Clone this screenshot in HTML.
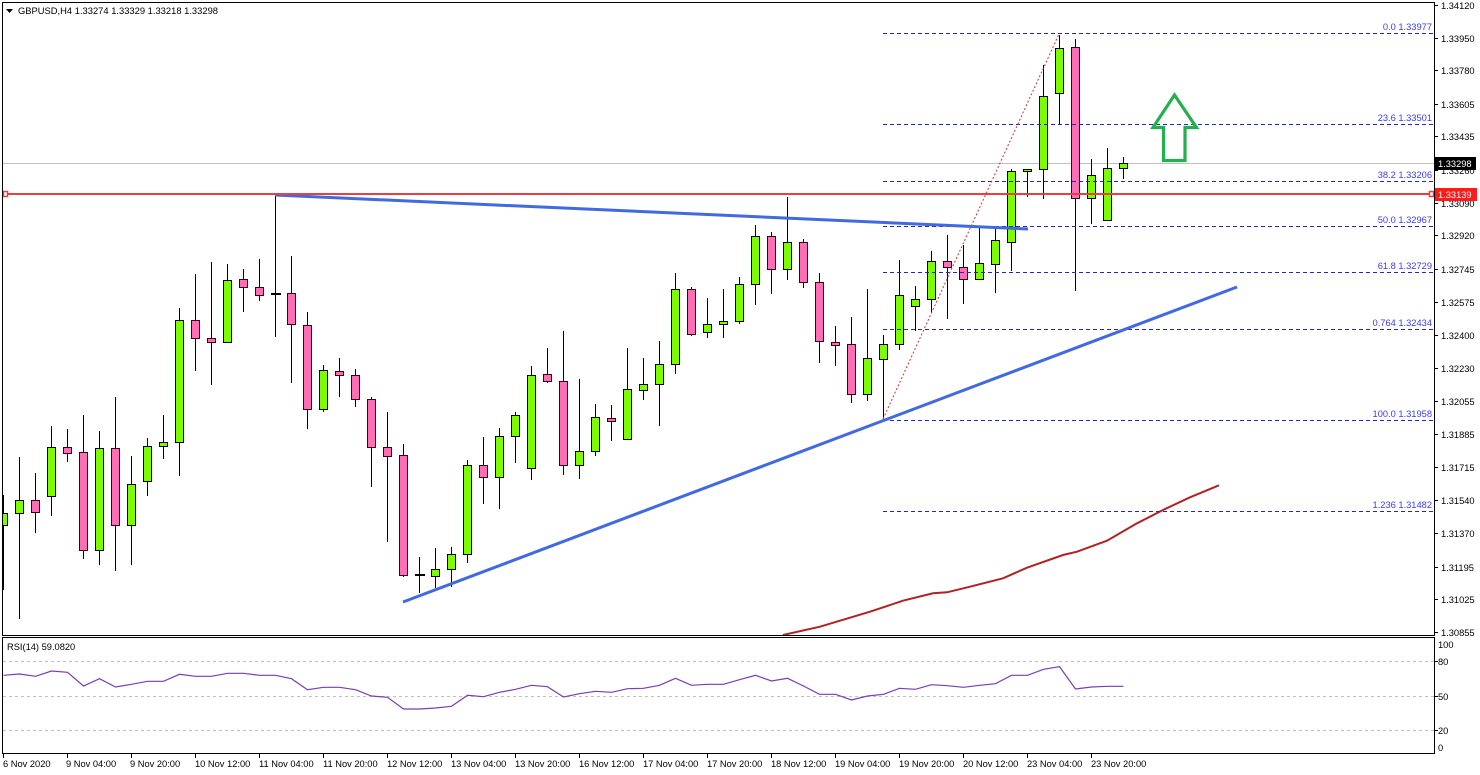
<!DOCTYPE html>
<html><head><meta charset="utf-8">
<style>
html,body{margin:0;padding:0;background:#fff;}
svg{display:block;}
text{font-family:"Liberation Sans",Arial,sans-serif;font-size:9.3px;}
</style></head>
<body>
<svg width="1480" height="775" viewBox="0 0 1480 775" xmlns="http://www.w3.org/2000/svg">
<defs>
<clipPath id="main"><rect x="3" y="3" width="1431" height="632"/></clipPath>
<clipPath id="rsi"><rect x="3" y="638" width="1431" height="115"/></clipPath>
</defs>
<rect width="1480" height="775" fill="#fff"/>

<g clip-path="url(#main)">
<!-- current price line -->
<line x1="3" y1="163.5" x2="1434" y2="163.5" stroke="#c0c0c0" stroke-width="1"/>

<!-- wicks -->
<g stroke="#000" stroke-width="1">
<line x1="3.5" y1="495" x2="3.5" y2="590"/>
<line x1="19.5" y1="457" x2="19.5" y2="619"/>
<line x1="35.5" y1="473" x2="35.5" y2="533"/>
<line x1="51.5" y1="426" x2="51.5" y2="516"/>
<line x1="67.5" y1="429" x2="67.5" y2="462"/>
<line x1="83.5" y1="415" x2="83.5" y2="559"/>
<line x1="99.5" y1="431" x2="99.5" y2="565"/>
<line x1="115.5" y1="397" x2="115.5" y2="571"/>
<line x1="131.5" y1="456" x2="131.5" y2="565"/>
<line x1="147.5" y1="438" x2="147.5" y2="496"/>
<line x1="163.5" y1="415" x2="163.5" y2="459"/>
<line x1="179.5" y1="308" x2="179.5" y2="476"/>
<line x1="195.5" y1="274" x2="195.5" y2="371"/>
<line x1="211.5" y1="262" x2="211.5" y2="385"/>
<line x1="227.5" y1="264" x2="227.5" y2="342"/>
<line x1="243.5" y1="269" x2="243.5" y2="312"/>
<line x1="259.5" y1="259" x2="259.5" y2="301"/>
<line x1="275.5" y1="195" x2="275.5" y2="337"/>
<line x1="291.5" y1="256" x2="291.5" y2="383"/>
<line x1="307.5" y1="312" x2="307.5" y2="429"/>
<line x1="323.5" y1="365" x2="323.5" y2="412"/>
<line x1="339.5" y1="358" x2="339.5" y2="397"/>
<line x1="355.5" y1="369" x2="355.5" y2="407"/>
<line x1="371.5" y1="397" x2="371.5" y2="487"/>
<line x1="387.5" y1="412" x2="387.5" y2="542"/>
<line x1="403.5" y1="444" x2="403.5" y2="577"/>
<line x1="419.5" y1="557" x2="419.5" y2="593"/>
<line x1="435.5" y1="548" x2="435.5" y2="588"/>
<line x1="451.5" y1="547" x2="451.5" y2="587"/>
<line x1="467.5" y1="460" x2="467.5" y2="563"/>
<line x1="483.5" y1="437" x2="483.5" y2="504"/>
<line x1="499.5" y1="428" x2="499.5" y2="509"/>
<line x1="515.5" y1="412" x2="515.5" y2="463"/>
<line x1="531.5" y1="366" x2="531.5" y2="480"/>
<line x1="547.5" y1="348" x2="547.5" y2="383"/>
<line x1="563.5" y1="331" x2="563.5" y2="475"/>
<line x1="579.5" y1="379" x2="579.5" y2="479"/>
<line x1="595.5" y1="404" x2="595.5" y2="456"/>
<line x1="611.5" y1="405" x2="611.5" y2="441"/>
<line x1="627.5" y1="348" x2="627.5" y2="439"/>
<line x1="643.5" y1="358" x2="643.5" y2="400"/>
<line x1="659.5" y1="341" x2="659.5" y2="426"/>
<line x1="675.5" y1="273" x2="675.5" y2="374"/>
<line x1="691.5" y1="287" x2="691.5" y2="336"/>
<line x1="707.5" y1="298" x2="707.5" y2="338"/>
<line x1="723.5" y1="289" x2="723.5" y2="338"/>
<line x1="739.5" y1="277" x2="739.5" y2="324"/>
<line x1="755.5" y1="225" x2="755.5" y2="305"/>
<line x1="771.5" y1="232" x2="771.5" y2="294"/>
<line x1="787.5" y1="197" x2="787.5" y2="280"/>
<line x1="803.5" y1="239" x2="803.5" y2="288"/>
<line x1="819.5" y1="273" x2="819.5" y2="363"/>
<line x1="835.5" y1="326" x2="835.5" y2="366"/>
<line x1="851.5" y1="317" x2="851.5" y2="403"/>
<line x1="867.5" y1="289" x2="867.5" y2="401"/>
<line x1="883.5" y1="335" x2="883.5" y2="419"/>
<line x1="899.5" y1="260" x2="899.5" y2="350"/>
<line x1="915.5" y1="286" x2="915.5" y2="331"/>
<line x1="931.5" y1="251" x2="931.5" y2="312"/>
<line x1="947.5" y1="235" x2="947.5" y2="319"/>
<line x1="963.5" y1="245" x2="963.5" y2="304"/>
<line x1="979.5" y1="226" x2="979.5" y2="279"/>
<line x1="995.5" y1="227" x2="995.5" y2="293"/>
<line x1="1011.5" y1="169" x2="1011.5" y2="271"/>
<line x1="1027.5" y1="169" x2="1027.5" y2="197"/>
<line x1="1043.5" y1="65" x2="1043.5" y2="199"/>
<line x1="1059.5" y1="35" x2="1059.5" y2="124"/>
<line x1="1075.5" y1="39" x2="1075.5" y2="291"/>
<line x1="1091.5" y1="159" x2="1091.5" y2="224"/>
<line x1="1107.5" y1="148" x2="1107.5" y2="220"/>
<line x1="1123.5" y1="157" x2="1123.5" y2="179"/>
</g>

<!-- bull bodies -->
<g fill="#7cfc00" stroke="#000" stroke-width="1">
<rect x="-0.5" y="513.5" width="8" height="12"/>
<rect x="15.5" y="500.5" width="8" height="13"/>
<rect x="47.5" y="447.5" width="8" height="49"/>
<rect x="95.5" y="448.5" width="8" height="102"/>
<rect x="127.5" y="484.5" width="8" height="41"/>
<rect x="143.5" y="446.5" width="8" height="35"/>
<rect x="159.5" y="442.5" width="8" height="4"/>
<rect x="175.5" y="320.5" width="8" height="122"/>
<rect x="223.5" y="280.5" width="8" height="62"/>
<rect x="319.5" y="370.5" width="8" height="39"/>
<rect x="431.5" y="569.5" width="8" height="7"/>
<rect x="447.5" y="554.5" width="8" height="15"/>
<rect x="463.5" y="465.5" width="8" height="89"/>
<rect x="495.5" y="436.5" width="8" height="41"/>
<rect x="511.5" y="415.5" width="8" height="21"/>
<rect x="527.5" y="375.5" width="8" height="93"/>
<rect x="575.5" y="451.5" width="8" height="14"/>
<rect x="591.5" y="417.5" width="8" height="34"/>
<rect x="623.5" y="389.5" width="8" height="50"/>
<rect x="639.5" y="384.5" width="8" height="6"/>
<rect x="655.5" y="364.5" width="8" height="20"/>
<rect x="671.5" y="289.5" width="8" height="75"/>
<rect x="703.5" y="324.5" width="8" height="8"/>
<rect x="719.5" y="321.5" width="8" height="3"/>
<rect x="735.5" y="284.5" width="8" height="37"/>
<rect x="751.5" y="236.5" width="8" height="48"/>
<rect x="783.5" y="242.5" width="8" height="27"/>
<rect x="863.5" y="358.5" width="8" height="36"/>
<rect x="879.5" y="344.5" width="8" height="15"/>
<rect x="895.5" y="295.5" width="8" height="49"/>
<rect x="911.5" y="299.5" width="8" height="7"/>
<rect x="927.5" y="261.5" width="8" height="38"/>
<rect x="975.5" y="263.5" width="8" height="16"/>
<rect x="991.5" y="240.5" width="8" height="24"/>
<rect x="1007.5" y="171.5" width="8" height="71"/>
<rect x="1023.5" y="169.5" width="8" height="2"/>
<rect x="1039.5" y="96.5" width="8" height="73"/>
<rect x="1055.5" y="48.5" width="8" height="45"/>
<rect x="1087.5" y="175.5" width="8" height="23"/>
<rect x="1103.5" y="168.5" width="8" height="52"/>
<rect x="1119.5" y="163.5" width="8" height="5"/>
</g>

<!-- bear bodies -->
<g fill="#ff6eb4" stroke="#3a0018" stroke-width="1">
<rect x="31.5" y="500.5" width="8" height="12"/>
<rect x="63.5" y="447.5" width="8" height="6"/>
<rect x="79.5" y="452.5" width="8" height="98"/>
<rect x="111.5" y="448.5" width="8" height="77"/>
<rect x="191.5" y="320.5" width="8" height="18"/>
<rect x="207.5" y="338.5" width="8" height="4"/>
<rect x="239.5" y="279.5" width="8" height="8"/>
<rect x="255.5" y="287.5" width="8" height="8"/>
<rect x="287.5" y="293.5" width="8" height="31"/>
<rect x="303.5" y="325.5" width="8" height="84"/>
<rect x="335.5" y="371.5" width="8" height="4"/>
<rect x="351.5" y="375.5" width="8" height="24"/>
<rect x="367.5" y="399.5" width="8" height="48"/>
<rect x="383.5" y="447.5" width="8" height="9"/>
<rect x="399.5" y="455.5" width="8" height="120"/>
<rect x="479.5" y="465.5" width="8" height="12"/>
<rect x="543.5" y="374.5" width="8" height="7"/>
<rect x="559.5" y="381.5" width="8" height="84"/>
<rect x="607.5" y="418.5" width="8" height="3"/>
<rect x="687.5" y="289.5" width="8" height="45"/>
<rect x="767.5" y="236.5" width="8" height="33"/>
<rect x="799.5" y="242.5" width="8" height="40"/>
<rect x="815.5" y="282.5" width="8" height="59"/>
<rect x="831.5" y="342.5" width="8" height="3"/>
<rect x="847.5" y="344.5" width="8" height="50"/>
<rect x="943.5" y="261.5" width="8" height="6"/>
<rect x="959.5" y="267.5" width="8" height="12"/>
<rect x="1071.5" y="47.5" width="8" height="151"/>
</g>
<!-- dojis -->
<rect x="271" y="293" width="10" height="2" fill="#000"/>
<rect x="415" y="574" width="10" height="2" fill="#000"/>

<!-- moving average -->
<polyline fill="none" stroke="#b22222" stroke-width="2" points="783,635 820,626.7 870,611.7 903,600.7 933,593.3 947,592.3 970,586.7 1003,578.3 1027,567.7 1063,555 1077,551.7 1107,540.7 1137,523.3 1163,510 1190,497.3 1219,485.3"/>

<!-- fib lines -->
<g stroke="#2424c8" stroke-width="1" stroke-dasharray="4,3">
<line x1="883" y1="33.5" x2="1434" y2="33.5"/>
<line x1="883" y1="124.5" x2="1434" y2="124.5"/>
<line x1="883" y1="181.5" x2="1434" y2="181.5"/>
<line x1="883" y1="226.5" x2="1434" y2="226.5"/>
<line x1="883" y1="272.5" x2="1434" y2="272.5"/>
<line x1="883" y1="329.5" x2="1434" y2="329.5"/>
<line x1="883" y1="420.5" x2="1434" y2="420.5"/>
<line x1="883" y1="511.5" x2="1434" y2="511.5"/>
</g>
<g fill="#3a3aff" text-anchor="end">
<text x="1432" y="30">0.0 1.33977</text>
<text x="1432" y="121">23.6 1.33501</text>
<text x="1432" y="178">38.2 1.33206</text>
<text x="1432" y="223">50.0 1.32967</text>
<text x="1432" y="269">61.8 1.32729</text>
<text x="1432" y="326">0.764 1.32434</text>
<text x="1432" y="417">100.0 1.31958</text>
<text x="1432" y="508">1.236 1.31482</text>
</g>
<!-- fib trend dotted -->
<line x1="883" y1="419" x2="1059" y2="34" stroke="#e03030" stroke-width="1" stroke-dasharray="2,2"/>

<!-- trendlines -->
<line x1="275" y1="195" x2="1028" y2="229" stroke="#4169e1" stroke-width="3"/>
<line x1="403" y1="602" x2="1237" y2="287" stroke="#4169e1" stroke-width="3"/>

<!-- red horizontal -->
<line x1="3" y1="194" x2="1434" y2="194" stroke="#e84040" stroke-width="2"/>
<rect x="3.5" y="191.5" width="4" height="5" fill="#fff" stroke="#e84040" stroke-width="1.5"/>
<rect x="1429.5" y="191.5" width="4" height="5" fill="#fff" stroke="#e84040" stroke-width="1.5"/>

<!-- arrow -->
<polygon points="1174.5,95 1196.5,127.5 1185,127.5 1185,160.5 1163.5,160.5 1163.5,127.5 1153,127.5" fill="none" stroke="#22b14c" stroke-width="3.2" stroke-linejoin="miter"/>
</g>

<!-- header -->
<polygon points="6,9 13,9 9.5,13" fill="#000"/>
<text x="18" y="14" textLength="200" lengthAdjust="spacingAndGlyphs">GBPUSD,H4  1.33274 1.33329 1.33218 1.33298</text>

<!-- frames -->
<g fill="none" stroke="#000" stroke-width="1">
<rect x="2.5" y="2.5" width="1432" height="633"/>
<rect x="2.5" y="637.5" width="1432" height="116"/>
</g>

<!-- price axis -->
<g stroke="#000" stroke-width="1">
<line x1="1434" y1="5.5" x2="1438" y2="5.5"/>
<line x1="1434" y1="38.5" x2="1438" y2="38.5"/>
<line x1="1434" y1="70.5" x2="1438" y2="70.5"/>
<line x1="1434" y1="104.5" x2="1438" y2="104.5"/>
<line x1="1434" y1="136.5" x2="1438" y2="136.5"/>
<line x1="1434" y1="170.5" x2="1438" y2="170.5"/>
<line x1="1434" y1="203.5" x2="1438" y2="203.5"/>
<line x1="1434" y1="235.5" x2="1438" y2="235.5"/>
<line x1="1434" y1="269.5" x2="1438" y2="269.5"/>
<line x1="1434" y1="302.5" x2="1438" y2="302.5"/>
<line x1="1434" y1="335.5" x2="1438" y2="335.5"/>
<line x1="1434" y1="368.5" x2="1438" y2="368.5"/>
<line x1="1434" y1="401.5" x2="1438" y2="401.5"/>
<line x1="1434" y1="434.5" x2="1438" y2="434.5"/>
<line x1="1434" y1="467.5" x2="1438" y2="467.5"/>
<line x1="1434" y1="500.5" x2="1438" y2="500.5"/>
<line x1="1434" y1="533.5" x2="1438" y2="533.5"/>
<line x1="1434" y1="567.5" x2="1438" y2="567.5"/>
<line x1="1434" y1="599.5" x2="1438" y2="599.5"/>
<line x1="1434" y1="632.5" x2="1438" y2="632.5"/>
</g>
<g fill="#000">
<text x="1441" y="9">1.34120</text>
<text x="1441" y="42">1.33950</text>
<text x="1441" y="74">1.33780</text>
<text x="1441" y="108">1.33605</text>
<text x="1441" y="140">1.33435</text>
<text x="1441" y="174">1.33260</text>
<text x="1441" y="207">1.33090</text>
<text x="1441" y="239">1.32920</text>
<text x="1441" y="273">1.32745</text>
<text x="1441" y="306">1.32575</text>
<text x="1441" y="339">1.32400</text>
<text x="1441" y="372">1.32230</text>
<text x="1441" y="405">1.32055</text>
<text x="1441" y="438">1.31885</text>
<text x="1441" y="471">1.31715</text>
<text x="1441" y="504">1.31540</text>
<text x="1441" y="537">1.31370</text>
<text x="1441" y="571">1.31195</text>
<text x="1441" y="603">1.31025</text>
<text x="1441" y="636">1.30855</text>
</g>
<rect x="1435" y="157" width="41" height="13" fill="#000"/>
<text x="1438" y="167" fill="#fff">1.33298</text>
<rect x="1435" y="188" width="42" height="13" fill="#ff1a1a"/>
<text x="1438" y="198" fill="#fff">1.33139</text>

<!-- RSI panel -->
<g stroke="#c0c0c0" stroke-width="1" stroke-dasharray="3,3">
<line x1="3" y1="661.5" x2="1434" y2="661.5"/>
<line x1="3" y1="696.5" x2="1434" y2="696.5"/>
<line x1="3" y1="730.5" x2="1434" y2="730.5"/>
</g>
<g clip-path="url(#rsi)">
<polyline fill="none" stroke="#7a3cb8" stroke-width="1.2" points="3.5,675.3 19.5,674 35.5,676.3 51.5,671 67.5,672.3 83.5,686 99.5,678.7 115.5,687 131.5,684.3 147.5,681.3 163.5,681.3 179.5,674.3 195.5,676.3 211.5,676.3 227.5,673.3 243.5,673.3 259.5,675.3 275.5,675.3 291.5,678.7 307.5,689.7 323.5,687.3 339.5,687.3 355.5,689.7 371.5,696 387.5,697.3 403.5,709 419.5,709 435.5,708 451.5,706.3 467.5,695.3 483.5,696.7 499.5,692.3 515.5,689.3 531.5,685.3 547.5,686.7 563.5,697 579.5,693.7 595.5,691.3 611.5,692.3 627.5,688.7 643.5,688.3 659.5,685.3 675.5,678.3 691.5,685.3 707.5,684.3 723.5,684.3 739.5,679.7 755.5,675.3 771.5,681 787.5,678.3 803.5,686 819.5,694.3 835.5,694.3 851.5,700 867.5,696 883.5,694.3 899.5,688.3 915.5,689.3 931.5,684.7 947.5,685.7 963.5,687.3 979.5,685.3 995.5,683.7 1011.5,675.3 1027.5,675.3 1043.5,669.3 1059.5,666.7 1075.5,689 1091.5,687 1107.5,686.3 1123.5,686.3"/>
</g>
<text x="7" y="650">RSI(14) 59.0820</text>
<g stroke="#000" stroke-width="1">
<line x1="1434" y1="661.5" x2="1438" y2="661.5"/>
<line x1="1434" y1="696.5" x2="1438" y2="696.5"/>
<line x1="1434" y1="730.5" x2="1438" y2="730.5"/>
</g>
<g fill="#000">
<text x="1438" y="648">100</text>
<text x="1438" y="665">80</text>
<text x="1438" y="700">50</text>
<text x="1438" y="734">20</text>
<text x="1438" y="751">0</text>
</g>

<!-- time axis -->
<g stroke="#000" stroke-width="1">
<line x1="3.5" y1="754" x2="3.5" y2="758"/>
<line x1="67.5" y1="754" x2="67.5" y2="758"/>
<line x1="131.5" y1="754" x2="131.5" y2="758"/>
<line x1="195.5" y1="754" x2="195.5" y2="758"/>
<line x1="259.5" y1="754" x2="259.5" y2="758"/>
<line x1="323.5" y1="754" x2="323.5" y2="758"/>
<line x1="387.5" y1="754" x2="387.5" y2="758"/>
<line x1="451.5" y1="754" x2="451.5" y2="758"/>
<line x1="515.5" y1="754" x2="515.5" y2="758"/>
<line x1="579.5" y1="754" x2="579.5" y2="758"/>
<line x1="643.5" y1="754" x2="643.5" y2="758"/>
<line x1="707.5" y1="754" x2="707.5" y2="758"/>
<line x1="771.5" y1="754" x2="771.5" y2="758"/>
<line x1="835.5" y1="754" x2="835.5" y2="758"/>
<line x1="899.5" y1="754" x2="899.5" y2="758"/>
<line x1="963.5" y1="754" x2="963.5" y2="758"/>
<line x1="1027.5" y1="754" x2="1027.5" y2="758"/>
<line x1="1091.5" y1="754" x2="1091.5" y2="758"/>
</g>
<g fill="#000">
<text x="3" y="767">6 Nov 2020</text>
<text x="66" y="767">9 Nov 04:00</text>
<text x="130" y="767">9 Nov 20:00</text>
<text x="195" y="767">10 Nov 12:00</text>
<text x="259" y="767">11 Nov 04:00</text>
<text x="323" y="767">11 Nov 20:00</text>
<text x="387" y="767">12 Nov 12:00</text>
<text x="451" y="767">13 Nov 04:00</text>
<text x="515" y="767">13 Nov 20:00</text>
<text x="579" y="767">16 Nov 12:00</text>
<text x="643" y="767">17 Nov 04:00</text>
<text x="707" y="767">17 Nov 20:00</text>
<text x="771" y="767">18 Nov 12:00</text>
<text x="835" y="767">19 Nov 04:00</text>
<text x="899" y="767">19 Nov 20:00</text>
<text x="963" y="767">20 Nov 12:00</text>
<text x="1027" y="767">23 Nov 04:00</text>
<text x="1091" y="767">23 Nov 20:00</text>
</g>
</svg>
</body></html>
